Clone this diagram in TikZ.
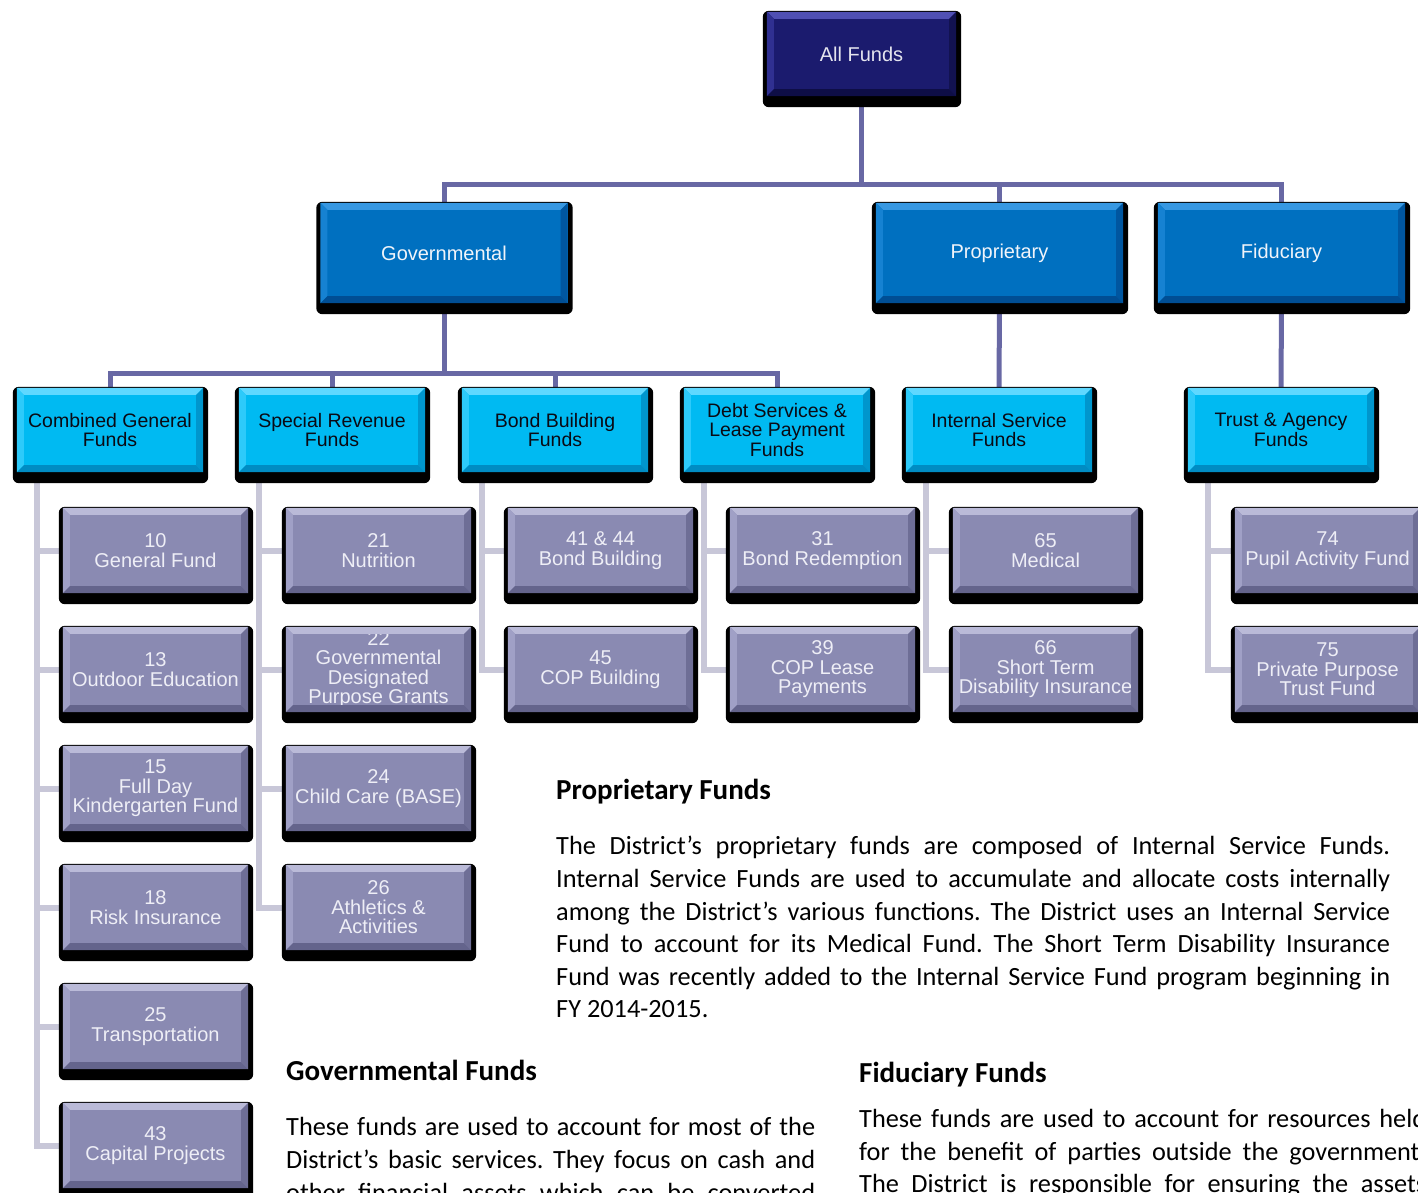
\documentclass[tikz,border=0pt]{standalone}
\usepackage{fontspec}
\setmainfont{Carlito}
\newfontfamily\boxfont{Liberation Sans}
\usetikzlibrary{calc}
\pgfdeclarelayer{lines}
\pgfdeclarelayer{shadows}
\pgfsetlayers{lines,shadows,main}
\frenchspacing

% level A: root
\definecolor{Afill}{RGB}{27,27,110}
\definecolor{Atop}{RGB}{80,80,180}
\definecolor{Aleft}{RGB}{48,48,145}
\definecolor{Aright}{RGB}{18,18,80}
\definecolor{Abot}{RGB}{14,14,70}
\definecolor{Atext}{RGB}{228,228,238}
% level B: fund categories
\definecolor{Bfill}{RGB}{0,112,192}
\definecolor{Btop}{RGB}{55,152,226}
\definecolor{Bleft}{RGB}{22,130,210}
\definecolor{Bright}{RGB}{0,86,160}
\definecolor{Bbot}{RGB}{0,78,148}
\definecolor{Btext}{RGB}{240,244,250}
% level C: fund groups
\definecolor{Cfill}{RGB}{0,186,242}
\definecolor{Ctop}{RGB}{95,216,255}
\definecolor{Cleft}{RGB}{45,202,250}
\definecolor{Cright}{RGB}{0,150,205}
\definecolor{Cbot}{RGB}{0,140,195}
\definecolor{Ctext}{RGB}{10,10,20}
% level D: individual funds
\definecolor{Dfill}{RGB}{138,138,178}
\definecolor{Dtop}{RGB}{186,186,216}
\definecolor{Dleft}{RGB}{160,160,198}
\definecolor{Dright}{RGB}{110,110,150}
\definecolor{Dbot}{RGB}{100,100,140}
\definecolor{Dtext}{RGB}{238,238,246}
% connectors
\definecolor{topwire}{RGB}{104,104,164}
\definecolor{subwire}{RGB}{200,199,216}

\newcommand\bev{7}

% bevelled box with a drop shadow: #1 level, #2 name, #3 centre, #4 text
\newcommand\fundbox[4]{%
  \node[box#1] (#2) at (#3) {#4};
  \begin{pgfonlayer}{shadows}
    \fill[black, rounded corners=6pt]
      ($(#2.north west)+(-4,-1)$) rectangle ($(#2.south east)+(5,11)$);
  \end{pgfonlayer}
  \fill[#1top] (#2.north west) -- (#2.north east) -- ($(#2.north east)+(-\bev,\bev)$)
     -- ($(#2.north west)+(\bev,\bev)$) -- cycle;
  \fill[#1left] (#2.north west) -- ($(#2.north west)+(\bev,\bev)$)
     -- ($(#2.south west)+(\bev,-\bev)$) -- (#2.south west) -- cycle;
  \fill[#1right] (#2.north east) -- (#2.south east) -- ($(#2.south east)+(-\bev,-\bev)$)
     -- ($(#2.north east)+(-\bev,\bev)$) -- cycle;
  \fill[#1bot] (#2.south west) -- (#2.south east) -- ($(#2.south east)+(-\bev,-\bev)$)
     -- ($(#2.south west)+(\bev,-\bev)$) -- cycle;
}

% feeder line from a group box down to its funds: #1 group, #2 last fund, #3 other funds
\newcommand\feeder[3]{%
  \coordinate (#1-t) at ($(#1.south west)+(20,0)$);
  \draw[subline] (#1-t) |- (#2.west);
  \foreach \f in {#3} { \draw[subline] (#1-t |- \f.west) -- (\f.west); }
}

\tikzset{
  boxbase/.style={rectangle, inner sep=0pt, align=center,
    font=\boxfont\fontsize{20}{19.5}\selectfont},
  boxA/.style={boxbase, fill=Afill, text=Atext, minimum width=189pt, minimum height=84pt},
  boxB/.style={boxbase, fill=Bfill, text=Btext, minimum width=247pt, minimum height=100pt},
  boxC/.style={boxbase, fill=Cfill, text=Ctext, minimum width=186pt, minimum height=84pt,
    font=\boxfont\fontsize{19.5}{19.5}\selectfont},
  boxD/.style={boxbase, fill=Dfill, text=Dtext, minimum width=185pt, minimum height=85pt},
  topline/.style={draw=topwire, line width=5pt},
  subline/.style={draw=subwire, line width=6pt},
  headtext/.style={anchor=base west, inner sep=0pt, font=\bfseries\fontsize{29}{32}\selectfont},
  bodytext/.style={anchor=base west, inner sep=0pt, font=\fontsize{26.3}{32.6}\selectfont},
}

\newcommand\jline[5]{\node[bodytext] (#1) at (#2,#3) {\hbox to #4pt{#5}};}

\begin{document}
\begin{tikzpicture}[x=1pt, y=-1pt]
\useasboundingbox (0,0) rectangle (1418,1193);
\clip (0,0) rectangle (1418,1193);

% root and categories
\fundbox{A}{af}{861.5,54}{All Funds}
\fundbox{B}{gov}{444,253}{Governmental}
\fundbox{B}{prop}{999.5,253}{Proprietary}
\fundbox{B}{fid}{1281.5,253}{Fiduciary}

% fund groups
\fundbox{C}{cgf}{110,430}{Combined General\\Funds}
\fundbox{C}{srf}{332,430}{Special Revenue\\Funds}
\fundbox{C}{bbf}{555,430}{Bond Building\\Funds}
\fundbox{C}{dsf}{777,430}{Debt Services \&\\Lease Payment\\Funds}
\fundbox{C}{isf}{999,430}{Internal Service\\Funds}
\fundbox{C}{taf}{1281,430}{Trust \& Agency\\Funds}

% combined general funds
\fundbox{D}{f10}{155.5,550.5}{10\\General Fund}
\fundbox{D}{f13}{155.5,669.5}{13\\Outdoor Education}
\fundbox{D}{f15}{155.5,788.5}{15\\Full Day\\Kindergarten Fund}
\fundbox{D}{f18}{155.5,907.5}{18\\Risk Insurance}
\fundbox{D}{f25}{155.5,1026.5}{25\\Transportation}
\fundbox{D}{f43}{155.5,1145.5}{43\\Capital Projects}
% special revenue funds
\fundbox{D}{f21}{378.5,550.5}{21\\Nutrition}
\fundbox{D}{f22}{378.5,669.5}{22\\Governmental\\Designated\\Purpose Grants}
\fundbox{D}{f24}{378.5,788.5}{24\\Child Care (BASE)}
\fundbox{D}{f26}{378.5,907.5}{26\\Athletics \&\\Activities}
% bond building funds
\fundbox{D}{f41}{600.5,550.5}{41 \& 44\\Bond Building}
\fundbox{D}{f45}{600.5,669.5}{45\\COP Building}
% debt services
\fundbox{D}{f31}{822.5,550.5}{31\\Bond Redemption}
\fundbox{D}{f39}{822.5,669.5}{39\\COP Lease\\Payments}
% internal service
\fundbox{D}{f65}{1045.5,550.5}{65\\Medical}
\fundbox{D}{f66}{1045.5,669.5}{66\\Short Term\\Disability Insurance}
% trust and agency
\fundbox{D}{f74}{1327.5,550.5}{74\\Pupil Activity Fund}
\fundbox{D}{f75}{1327.5,669.5}{75\\Private Purpose\\Trust Fund}

% connectors
\begin{pgfonlayer}{lines}
  \coordinate (busA) at (862,185);
  \draw[topline] (af.south) -- (af.south |- busA);
  \draw[topline] (gov.north) |- (fid.north |- busA) -- (fid.north);
  \draw[topline] (prop.north) -- (prop.north |- busA);
  \coordinate (busB) at (444,373);
  \draw[topline] (gov.south) -- (gov.south |- busB);
  \draw[topline] (cgf.north) |- (dsf.north |- busB) -- (dsf.north);
  \draw[topline] (srf.north) -- (srf.north |- busB);
  \draw[topline] (bbf.north) -- (bbf.north |- busB);
  \draw[topline] (prop.south) -- (isf.north);
  \draw[topline] (fid.south) -- (taf.north);
  \feeder{cgf}{f43}{f10,f13,f15,f18,f25}
  \feeder{srf}{f26}{f21,f22,f24}
  \feeder{bbf}{f45}{f41}
  \feeder{dsf}{f39}{f31}
  \feeder{isf}{f66}{f65}
  \feeder{taf}{f75}{f74}
\end{pgfonlayer}

% proprietary funds note
\node[headtext] (prophead) at (556,799) {Proprietary Funds};
\jline{pl1}{556}{854}{834}{The District’s proprietary funds are composed of Internal Service Funds.}
\jline{pl2}{556}{887}{834}{Internal Service Funds are used to accumulate and allocate costs internally}
\jline{pl3}{556}{920}{834}{among the District’s various functions. The District uses an Internal Service}
\jline{pl4}{556}{952}{834}{Fund to account for its Medical Fund. The Short Term Disability Insurance}
\jline{pl5}{556}{985}{834}{Fund was recently added to the Internal Service Fund program beginning in}
\node[bodytext] (pl6) at (556,1017) {FY 2014-2015.};

% governmental funds note
\node[headtext] (govhead) at (286,1080) {Governmental Funds};
\jline{gl1}{286}{1135}{529}{These funds are used to account for most of the}
\jline{gl2}{286}{1168}{529}{District’s basic services. They focus on cash and}
\jline{gl3}{286}{1201}{529}{other financial assets which can be converted}

% fiduciary funds note
\node[headtext] (fidhead) at (859,1082) {Fiduciary Funds};
\jline{fl1}{859}{1127}{567}{These funds are used to account for resources held}
\jline{fl2}{859}{1160}{567}{for the benefit of parties outside the government.}
\jline{fl3}{859}{1192}{567}{The District is responsible for ensuring the assets}
\end{tikzpicture}
\end{document}
